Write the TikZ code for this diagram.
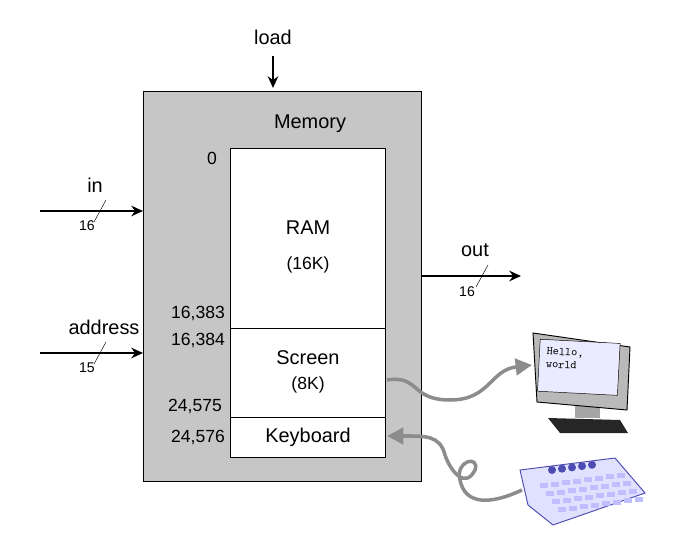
\documentclass[tikz,border=0pt]{standalone}
\usepackage{fontspec}
\setmainfont{Liberation Sans}
\usetikzlibrary{positioning}
\usetikzlibrary{arrows.meta}
\begin{document}
\begin{tikzpicture}[x=0.03cm,y=-0.03cm,
	lbl/.style={font=\fontsize{17}{20}\selectfont},
	num/.style={font=\fontsize{15}{18}\selectfont},
	bus/.style={line width=1.7pt,-{Stealth[length=10pt,width=9pt]}},
	cable/.style={line width=3pt,gray!90,-{Triangle[length=14pt,width=14pt]}}]
				
				\useasboundingbox (0,0) rectangle (681,545);
				
				\draw[fill=gray!45,line width=0.8pt] (143,91) rectangle (421,481);
				\node[lbl] (M) at (310,124) {Memory};
				
				\node[draw,fill=white,minimum width=155*0.03cm,minimum height=180*0.03cm,anchor=north west,line width=0.8pt] (RAM) at (230,148) {};
				\node[draw,fill=white,minimum width=155*0.03cm,minimum height=89*0.03cm,anchor=north west,line width=0.8pt] (SCR) at (230,328) {};
				\node[draw,fill=white,minimum width=155*0.03cm,minimum height=40*0.03cm,anchor=north west,line width=0.8pt] (KBD) at (230,417) {};
				
				\node[lbl] at (308,228) {RAM};
				\node[num] at (308,265) {(16K)};
				\node[lbl] at (308,358) {Screen};
				\node[num] at (308,385) {(8K)};
				\node[lbl] at (308,437) {Keyboard};
				
				\node[num] (A0) at (212,158) {0};
				\node[num] (A1) at (198,313) {16,383};
				\node[num] (A2) at (198,340) {16,384};
				\node[num] (A3) at (195,406) {24,575};
				\node[num] (A4) at (198,437) {24,576};
				
				% inputs and output
				\node[lbl] (L) at (273,37) {load};
				\coordinate (L1) at (273,56);
				\coordinate (L2) at (273,88);
				\draw[bus] (L1) -- (L2);
				
				\node[lbl] (I) at (95,185) {in};
				\coordinate (I1) at (40,211);
				\coordinate (I2) at (143,211);
				\draw[bus] (I1) -- (I2);
				\draw (94,222) -- (106,200);
				\node[num,font=\fontsize{12}{14}\selectfont] at (87,226) {16};
				
				\node[lbl] (AD) at (104,327) {address};
				\coordinate (AD1) at (40,353);
				\coordinate (AD2) at (143,353);
				\draw[bus] (AD1) -- (AD2);
				\draw (94,364) -- (106,342);
				\node[num,font=\fontsize{12}{14}\selectfont] at (87,368) {15};
				
				\node[lbl] (O) at (475,250) {out};
				\coordinate (O1) at (421,276);
				\coordinate (O2) at (521,276);
				\draw[bus] (O1) -- (O2);
				\draw (476,287) -- (488,265);
				\node[num,font=\fontsize{12}{14}\selectfont] at (467,292) {16};
				
				% monitor
				\fill[black!85] (548,418) -- (620,420) -- (628,433) -- (560,433) -- cycle;
				\fill[gray!70] (575,405) rectangle (600,418);
				\draw[fill=gray!55,line width=0.8pt] (533,333) -- (630,347) -- (627,410) -- (537,402) -- cycle;
				\node[draw,fill=blue!8,inner sep=0pt,minimum width=80*0.03cm,minimum height=52*0.03cm,anchor=north west,
					rotate=-3] (MON) at (540,339) {};
				\node[font=\ttfamily\fontsize{10}{11}\selectfont,align=left,anchor=north west,rotate=-3] at (543,343) {Hello,\\world};
				
				% keyboard
				\draw[fill=blue!12,draw=blue!40!gray,line width=0.8pt] (520,470) -- (615,458) -- (645,493) -- (553,525) -- (528,505) -- cycle;
				\foreach \k in {0,...,4}
					\fill[blue!40!gray] (552+\k*10,470-\k*1.3) circle (4);
				\foreach \r in {0,...,3}
					\foreach \k in {0,...,7}
						\fill[blue!25] (540+\r*6+\k*11,483+\r*8-\k*1.5) rectangle ++(8,5);
				\coordinate (KB) at (522,490);
				
				% cables
				\draw[cable] (387,380) .. controls (420,375) and (410,400) .. (450,400)
					.. controls (490,400) and (490,370) .. (532,365);
				\draw[cable] (KB) .. controls (490,505) and (465,505) .. (460,480)
					.. controls (455,460) and (480,455) .. (475,470)
					.. controls (465,490) and (450,470) .. (445,455)
					.. controls (440,435) and (425,436) .. (387,436);
				
			\end{tikzpicture}
\end{document}
